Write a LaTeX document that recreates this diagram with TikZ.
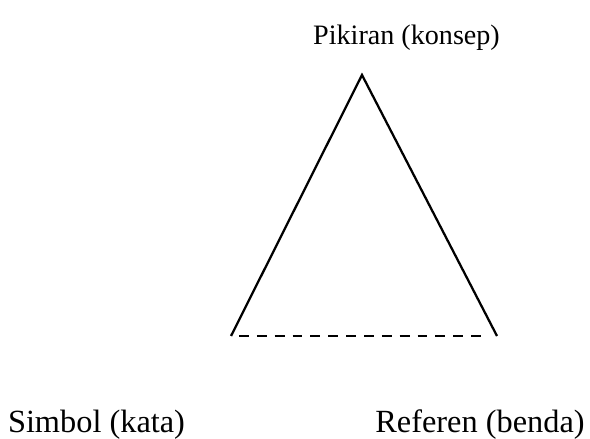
\documentclass[tikz,border=0pt]{standalone}
\usepackage{fontspec}
\setmainfont{Liberation Serif}
\usetikzlibrary{positioning}

\begin{document}
\begin{tikzpicture}[
    x=0.025cm, y=0.025cm,
    every node/.style={inner sep=0pt},
    label/.style={font=\fontsize{23}{27}\selectfont},
    sisi/.style={line width=1.6pt},
    putus/.style={line width=1.6pt, dash pattern=on 7pt off 5.7pt}
]
\useasboundingbox (0,0) rectangle (590,439);

\coordinate (puncak) at (362,364);
\coordinate (kiri) at (231,103);
\coordinate (kanan) at (497,103);
\coordinate (kiriD) at (239,103);
\coordinate (kananD) at (488,103);

\node (pikiran) [font=\fontsize{20}{24}\selectfont] at (406.5,401) {Pikiran (konsep)};
\node (simbol) [label] at (96.5,14) {Simbol (kata)};
\node (referen) [label] at (480,14) {Referen (benda)};

\draw[sisi, line join=miter] (kiri) -- (puncak) -- (kanan);
\draw[putus] (kiriD) -- (kananD);

\end{tikzpicture}
\end{document}
